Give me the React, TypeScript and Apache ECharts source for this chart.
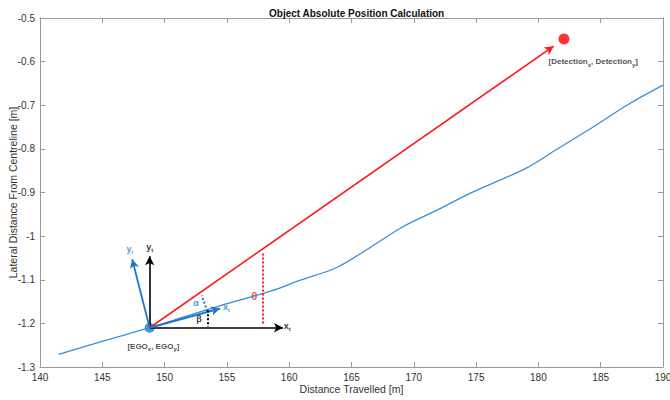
import React, { useEffect, useRef } from "react";
import * as echarts from "echarts";

// Trajectory (blue line)
const trajectoryX = [141.5, 145, 148.8, 152, 155, 158.5, 160.9, 163.8, 166.5, 169.1, 171.9, 174.5, 176.4, 179.1, 181.7, 184.4, 187.1, 190];
const trajectoryY = [-1.271, -1.241, -1.21, -1.181, -1.155, -1.126, -1.101, -1.072, -1.026, -0.979, -0.94, -0.902, -0.878, -0.843, -0.797, -0.75, -0.7, -0.654];

// Key points
const egoPoint = [148.8, -1.21];
const detectionPoint = [182.05, -0.548];

// Vector end points
const xTEnd = [159.5, -1.21];
const yTEnd = [148.8, -1.046];
const xIEnd = [154.45, -1.166];
const yIEnd = [147.4, -1.053];

// Angle guide lines
const alphaGuide = [[153.43, -1.172], [152.98, -1.136]];
const betaGuide = [[153.43, -1.170], [153.43, -1.208]];
const thetaGuide = [[157.87, -1.040], [157.87, -1.202]];

// Axis ticks
const xMin = 140, xMax = 190, xStep = 5;
const yMin = -1.3, yMax = -0.5, yStep = 0.1;

const FONT = "'Liberation Sans', Arial, Helvetica, sans-serif";
const BLUE = "#1f78c8";
const BLUE_LINE = "#3a8fd6";
const RED = "#ff1a1a";
const AXIS = "#9a9a9a";

export default function App() {
  const ref = useRef<HTMLDivElement>(null);
  useEffect(() => {
    document.body.style.margin = "0";
    const chart = echarts.init(ref.current!, null, { renderer: "svg" });

    const redEnd = [
      egoPoint[0] + (detectionPoint[0] - egoPoint[0]) * 0.975,
      egoPoint[1] + (detectionPoint[1] - egoPoint[1]) * 0.975,
    ];

    const arrow = (from: number[], to: number[], color: string, width: number) => [
      { coord: from, symbol: "none", lineStyle: { color, width, type: "solid" } },
      { coord: to, symbol: "arrow", symbolSize: [7, 9] },
    ];
    const dotted = (seg: number[][], color: string) => [
      { coord: seg[0], symbol: "none", lineStyle: { color, width: 2, type: [2, 2] } },
      { coord: seg[1], symbol: "none" },
    ];

    const sub = { fontSize: 6, padding: [6, 0, 0, 0], fontFamily: FONT, fontWeight: "bold" };
    const mkLabel = (pos: number[], text: string, color: string, fontSize: number, bold = true) => ({
      value: pos,
      label: {
        show: true,
        position: "inside",
        formatter: text,
        color,
        fontSize,
        fontFamily: FONT,
        fontWeight: bold ? "bold" : "normal",
        rich: { s: { ...sub, color } },
      },
    });

    chart.setOption({
      animation: false,
      title: {
        text: "Object Absolute Position Calculation",
        left: 264,
        top: 3,
        textStyle: { fontSize: 10, fontWeight: "bold", fontFamily: FONT, color: "#111" },
      },
      grid: { left: 40, right: 7, top: 18, bottom: 33, containLabel: false, outerBoundsMode: "none" },
      xAxis: [
        {
          type: "value",
          min: xMin,
          max: xMax,
          interval: xStep,
          position: "bottom",
          name: "Distance Travelled [m]",
          nameLocation: "middle",
          nameGap: 16,
          nameMoveOverlap: false,
          nameTextStyle: { fontSize: 10.5, fontFamily: FONT, color: "#333" },
          axisLine: { show: true, lineStyle: { color: AXIS, width: 1 } },
          axisTick: { show: true, inside: true, length: 5, lineStyle: { color: AXIS } },
          axisLabel: { fontSize: 10, fontFamily: FONT, color: "#333", margin: 5 },
          splitLine: { show: false },
        },
        {
          type: "value",
          min: xMin,
          max: xMax,
          interval: xStep,
          position: "top",
          axisLine: { show: true, lineStyle: { color: AXIS, width: 1 } },
          axisTick: { show: true, inside: true, length: 5, lineStyle: { color: AXIS } },
          axisLabel: { show: false },
          splitLine: { show: false },
        },
      ],
      yAxis: [
        {
          type: "value",
          min: yMin,
          max: yMax,
          interval: yStep,
          position: "left",
          name: "Lateral Distance From Centreline [m]",
          nameLocation: "middle",
          nameGap: 22,
          nameMoveOverlap: false,
          nameTextStyle: { fontSize: 10.5, fontFamily: FONT, color: "#333" },
          axisLine: { show: true, lineStyle: { color: AXIS, width: 1 } },
          axisTick: { show: true, inside: true, length: 5, lineStyle: { color: AXIS } },
          axisLabel: {
            fontSize: 10,
            fontFamily: FONT,
            color: "#333",
            margin: 5,
            formatter: (v: number) => String(+v.toFixed(1)),
          },
          splitLine: { show: false },
        },
        {
          type: "value",
          min: yMin,
          max: yMax,
          interval: yStep,
          position: "right",
          axisLine: { show: true, lineStyle: { color: AXIS, width: 1 } },
          axisTick: { show: true, inside: true, length: 5, lineStyle: { color: AXIS } },
          axisLabel: { show: false },
          splitLine: { show: false },
        },
      ],
      series: [
        {
          type: "line",
          name: "trajectory",
          xAxisIndex: 0,
          yAxisIndex: 0,
          data: trajectoryX.map((x, i) => [x, trajectoryY[i]]),
          showSymbol: false,
          smooth: 0.35,
          lineStyle: { color: BLUE_LINE, width: 1.3 },
          silent: true,
        },
        {
          type: "line",
          name: "vectors",
          xAxisIndex: 0,
          yAxisIndex: 0,
          data: [],
          silent: true,
          markLine: {
            silent: true,
            animation: false,
            label: { show: false },
            data: [
              arrow(egoPoint, redEnd, RED, 1.6),
              arrow(egoPoint, xTEnd, "#000", 1.6),
              arrow(egoPoint, yTEnd, "#000", 1.6),
              arrow(egoPoint, yIEnd, BLUE, 1.8),
              arrow(egoPoint, xIEnd, BLUE, 2.2),
              dotted(alphaGuide, BLUE),
              dotted(betaGuide, "#000"),
              dotted(thetaGuide, RED),
            ],
          },
        },
        {
          type: "scatter",
          name: "points",
          xAxisIndex: 0,
          yAxisIndex: 0,
          silent: true,
          data: [
            { value: egoPoint, symbolSize: 10, itemStyle: { color: BLUE } },
            { value: detectionPoint, symbolSize: 11, itemStyle: { color: "#ff0000" } },
          ],
        },
        {
          type: "scatter",
          name: "labels",
          xAxisIndex: 0,
          yAxisIndex: 0,
          silent: true,
          symbolSize: 0,
          data: [
            mkLabel([152.52, -1.154], "α", BLUE, 9),
            mkLabel([152.76, -1.191], "β", "#000", 9),
            mkLabel([157.2, -1.138], "θ", RED, 11.5),
            mkLabel([154.95, -1.163], "x{s|i}", BLUE, 9),
            mkLabel([147.2, -1.03], "y{s|i}", BLUE, 9),
            mkLabel([148.8, -1.024], "y{s|t}", "#000", 9),
            mkLabel([159.85, -1.205], "x{s|t}", "#000", 9),
            mkLabel([149.1, -1.252], "[EGO{s|x}, EGO{s|y}]", "#222", 8),
            mkLabel([184.4, -0.6], "[Detection{s|x}, Detection{s|y}]", "#222", 8),
          ],
        },
      ],
    });
    return () => chart.dispose();
  }, []);
  return (
    <div
      ref={ref}
      style={{ position: "fixed", left: 0, top: 0, width: 670, height: 400, background: "#fff" }}
    />
  );
}
